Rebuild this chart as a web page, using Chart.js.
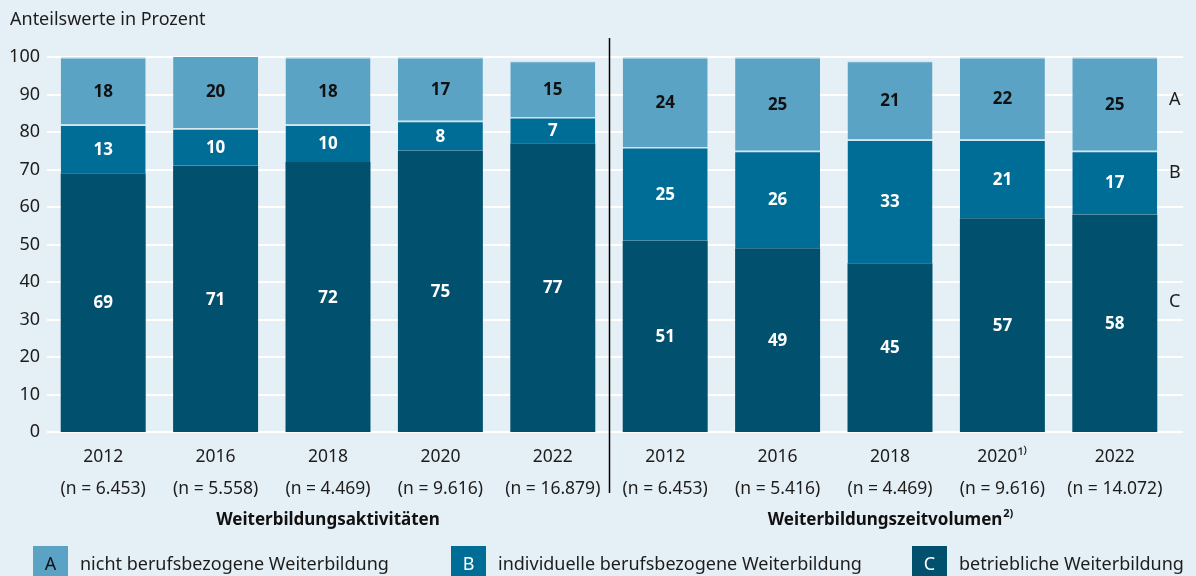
<!DOCTYPE html>
<html>
<head>
<meta charset="utf-8">
<script src="https://cdn.jsdelivr.net/npm/chart.js@4.4.1/dist/chart.umd.min.js"></script>
<style>
  html, body { margin: 0; padding: 0; background: #e5eff6; }
  #wrap { width: 1196px; height: 576px; position: relative; }
</style>
</head>
<body>
<div id="wrap"><canvas id="chart" width="1196" height="576"></canvas></div>
<script>
const years = ['2012', '2016', '2018', '2020', '2022', '2012', '2016', '2018', '2020\u00B9\u207E', '2022'];
const nLabels = ['(n = 6.453)', '(n = 5.558)', '(n = 4.469)', '(n = 9.616)', '(n = 16.879)',
  '(n = 6.453)', '(n = 5.416)', '(n = 4.469)', '(n = 9.616)', '(n = 14.072)'];
const betrieblich = [69, 71, 72, 75, 77, 51, 49, 45, 57, 58];
const individuell = [13, 10, 10, 8, 7, 25, 26, 33, 21, 17];
const nichtBeruf = [18, 20, 18, 17, 15, 24, 25, 21, 22, 25];
const yTicks = [0, 10, 20, 30, 40, 50, 60, 70, 80, 90, 100];
const groups = ['Weiterbildungsaktivit\u00E4ten', 'Weiterbildungszeitvolumen'];
const legendItems = [
  { key: 'A', text: 'nicht berufsbezogene Weiterbildung' },
  { key: 'B', text: 'individuelle berufsbezogene Weiterbildung' },
  { key: 'C', text: 'betriebliche Weiterbildung' }
];

const colA = '#5ba3c5';
const colB = '#006d96';
const colC = '#00506e';
const FONT = '"Noto Sans", sans-serif';
const txt = '#1d1d1b';

const sep = { top: 1.5, right: 0, bottom: 0, left: 0 };

// gridlines, divider, labels and legend
const extras = {
  id: 'extras',
  beforeDatasetsDraw(chart) {
    const ctx = chart.ctx;
    const y = chart.scales.y;
    ctx.save();
    ctx.strokeStyle = '#ffffff';
    ctx.lineWidth = 2;
    yTicks.forEach(v => {
      const py = Math.round(y.getPixelForValue(v));
      ctx.beginPath();
      ctx.moveTo(chart.chartArea.left, py);
      ctx.lineTo(1183, py);
      ctx.stroke();
    });
    ctx.restore();
  },
  afterDatasetsDraw(chart) {
    const ctx = chart.ctx;
    const x = chart.scales.x;
    const y = chart.scales.y;
    ctx.save();

    // values inside the bars
    ctx.font = 'bold 17px ' + FONT;
    ctx.textAlign = 'center';
    ctx.textBaseline = 'middle';
    chart.data.datasets.forEach((ds, di) => {
      const meta = chart.getDatasetMeta(di);
      meta.data.forEach((bar, i) => {
        const mid = (bar.y + bar.base) / 2;
        ctx.fillStyle = di === 2 ? '#111111' : '#ffffff';
        ctx.fillText(ds.data[i], bar.x, mid + 1);
      });
    });

    // header
    ctx.font = '18px ' + FONT;
    ctx.fillStyle = txt;
    ctx.textAlign = 'left';
    ctx.fillText('Anteilswerte in Prozent', 10, 20);

    // segment letters on the right
    ctx.font = '18px ' + FONT;
    ctx.fillText('A', 1169, y.getPixelForValue(88.5));
    ctx.fillText('B', 1169, y.getPixelForValue(69));
    ctx.fillText('C', 1169, y.getPixelForValue(34.7));

    // divider
    const dx = Math.round(x.getPixelForValue(4.5)) + 0.5;
    ctx.strokeStyle = '#000000';
    ctx.lineWidth = 1.5;
    ctx.beginPath();
    ctx.moveTo(dx, 38);
    ctx.lineTo(dx, 493);
    ctx.stroke();

    // group titles
    ctx.font = 'bold 17px ' + FONT;
    ctx.textAlign = 'center';
    ctx.fillStyle = '#111111';
    ctx.fillText(groups[0], x.getPixelForValue(2), 520);
    const g2 = groups[1];
    const w2 = ctx.measureText(g2).width;
    ctx.font = 'bold 11px ' + FONT;
    const ws = ctx.measureText('2)').width;
    const cx = x.getPixelForValue(7);
    const start = cx - (w2 + ws) / 2;
    ctx.textAlign = 'left';
    ctx.font = 'bold 17px ' + FONT;
    ctx.fillText(g2, start, 520);
    ctx.font = 'bold 11px ' + FONT;
    ctx.fillText('2)', start + w2 + 1, 514);

    // legend
    const lx = [33, 451, 912];
    const boxCols = [colA, colB, colC];
    legendItems.forEach((it, i) => {
      ctx.fillStyle = boxCols[i];
      ctx.fillRect(lx[i], 546, 35, 30);
      ctx.font = '18px ' + FONT;
      ctx.textAlign = 'center';
      ctx.fillStyle = i === 0 ? '#111111' : '#ffffff';
      ctx.fillText(it.key, lx[i] + 17.5, 565);
      ctx.textAlign = 'left';
      ctx.fillStyle = txt;
      ctx.fillText(it.text, lx[i] + 47, 565);
    });

    ctx.restore();
  }
};

const ctx = document.getElementById('chart').getContext('2d');
const chart = new Chart(ctx, {
  type: 'bar',
  data: {
    labels: years.map((yr, i) => [yr, nLabels[i]]),
    datasets: [
      { label: 'C', data: betrieblich, backgroundColor: colC, borderColor: '#d4e4ee', borderWidth: 0 },
      { label: 'B', data: individuell, backgroundColor: colB, borderColor: '#d4e4ee', borderWidth: sep, borderSkipped: false },
      { label: 'A', data: nichtBeruf, backgroundColor: colA, borderColor: '#d4e4ee', borderWidth: sep, borderSkipped: false }
    ]
  },
  options: {
    responsive: false,
    animation: false,
    layout: { padding: { top: 57, right: 25, bottom: 0, left: 0 } },
    datasets: { bar: { barPercentage: 0.756, categoryPercentage: 1 } },
    plugins: { legend: { display: false }, tooltip: { enabled: false } },
    scales: {
      x: {
        stacked: true,
        grid: { display: false },
        border: { display: false },
        ticks: {
          color: txt,
          padding: 1,
          font: { family: FONT, size: 17.5, lineHeight: 32 / 17.5 },
          maxRotation: 0,
          autoSkip: false
        },
        afterFit(scale) { scale.height = 144; }
      },
      y: {
        stacked: true,
        min: 0,
        max: 100,
        grid: { display: false, drawTicks: false },
        border: { display: false },
        ticks: {
          stepSize: 10,
          color: txt,
          padding: 7,
          font: { family: FONT, size: 18 }
        },
        afterFit(scale) { scale.width = 47; }
      }
    }
  },
  plugins: [extras]
});
</script>
</body>
</html>
